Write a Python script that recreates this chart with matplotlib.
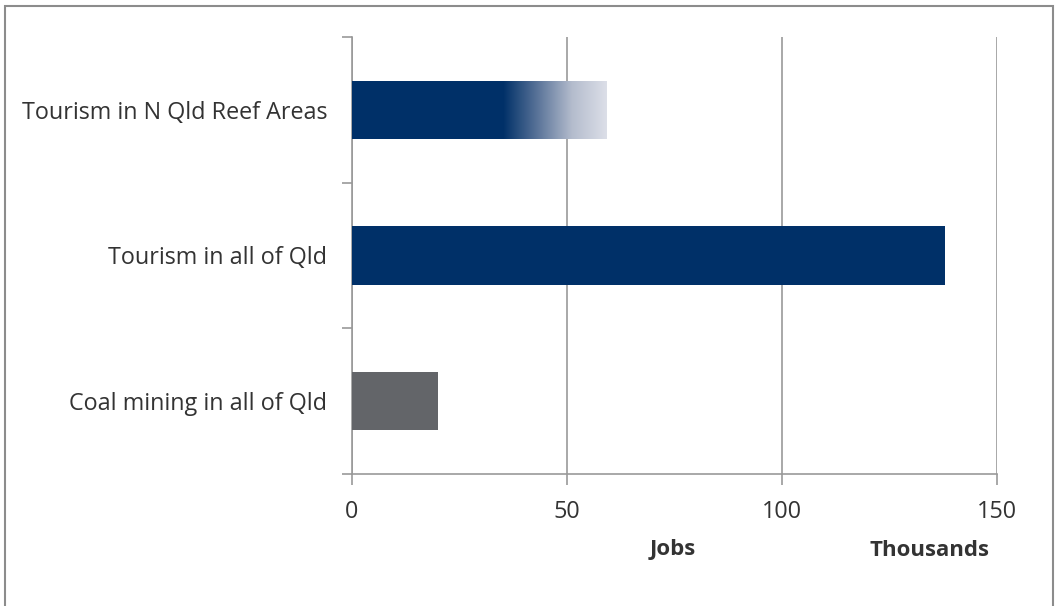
import numpy as np
import matplotlib
matplotlib.use('Agg')
import matplotlib.pyplot as plt
from matplotlib.colors import LinearSegmentedColormap
from matplotlib.patches import Rectangle

plt.rcParams['font.family'] = ['Open Sans', 'DejaVu Sans']

# data (thousands of jobs)
categories = ['Coal mining in all of Qld', 'Tourism in all of Qld', 'Tourism in N Qld Reef Areas']
jobs = [20, 138, 59]
bar_colors = ['#636569', '#003068', '#003068']
fade_start = 35  # gradient on reef bar begins here

xticks = [0, 50, 100, 150]

fig = plt.figure(figsize=(10.57, 6.06), dpi=100)
ax = fig.add_axes([352 / 1057, 1 - 474 / 606, (997 - 352) / 1057, (474 - 37) / 606])

y = np.arange(len(categories))
bars = ax.barh(y, jobs, height=0.4, color=bar_colors, zorder=3)

# gradient overlay on the reef areas bar
reef = bars[2]
cmap = LinearSegmentedColormap.from_list('fade', ['#003068', '#5a7499', '#b4bccd', '#dcdfe8'])
grad = np.linspace(0, 1, 256).reshape(1, -1)
im = ax.imshow(grad, cmap=cmap, aspect='auto', zorder=4,
               extent=[fade_start, jobs[2], y[2] - 0.2, y[2] + 0.2])
im.set_clip_path(reef)

fs = 16.8
ax.set_xlim(0, 150)
ax.set_ylim(-0.5, 2.5)
ax.set_xticks(xticks)
ax.set_xticklabels([str(t) for t in xticks], fontsize=fs, color='#333333')
ax.set_yticks([-0.5, 0.5, 1.5, 2.5])
ax.set_yticklabels([])
ax.set_yticks(y, minor=True)
ax.set_yticklabels(categories, minor=True, fontsize=fs, color='#333333')
ax.tick_params(axis='y', which='minor', length=0, pad=18)
ax.tick_params(axis='y', which='major', length=7, color='#999999', width=1.2)
ax.tick_params(axis='x', length=8, color='#999999', width=1.2, pad=11)

ax.grid(axis='x', color='#999999', linewidth=1.2, zorder=0)
for s in ['top', 'right']:
    ax.spines[s].set_visible(False)
ax.spines['left'].set_color('#999999')
ax.spines['bottom'].set_color('#999999')
ax.spines['left'].set_linewidth(1.2)
ax.spines['bottom'].set_linewidth(1.2)

fig.text(673 / 1057, 1 - 550 / 606, 'Jobs', fontsize=16, fontweight='bold',
         ha='center', va='center', color='#333333')
fig.text(929 / 1057, 1 - 550 / 606, 'Thousands', fontsize=16, fontweight='bold',
         ha='center', va='center', color='#333333')

# outer chart frame
fig.patches.append(Rectangle((5 / 1057, -0.05), 1048 / 1057, 1.05 - 6 / 606,
                             transform=fig.transFigure, fill=False,
                             edgecolor='#8c8c8c', linewidth=1.5))

fig.savefig('out.png', dpi=100)
